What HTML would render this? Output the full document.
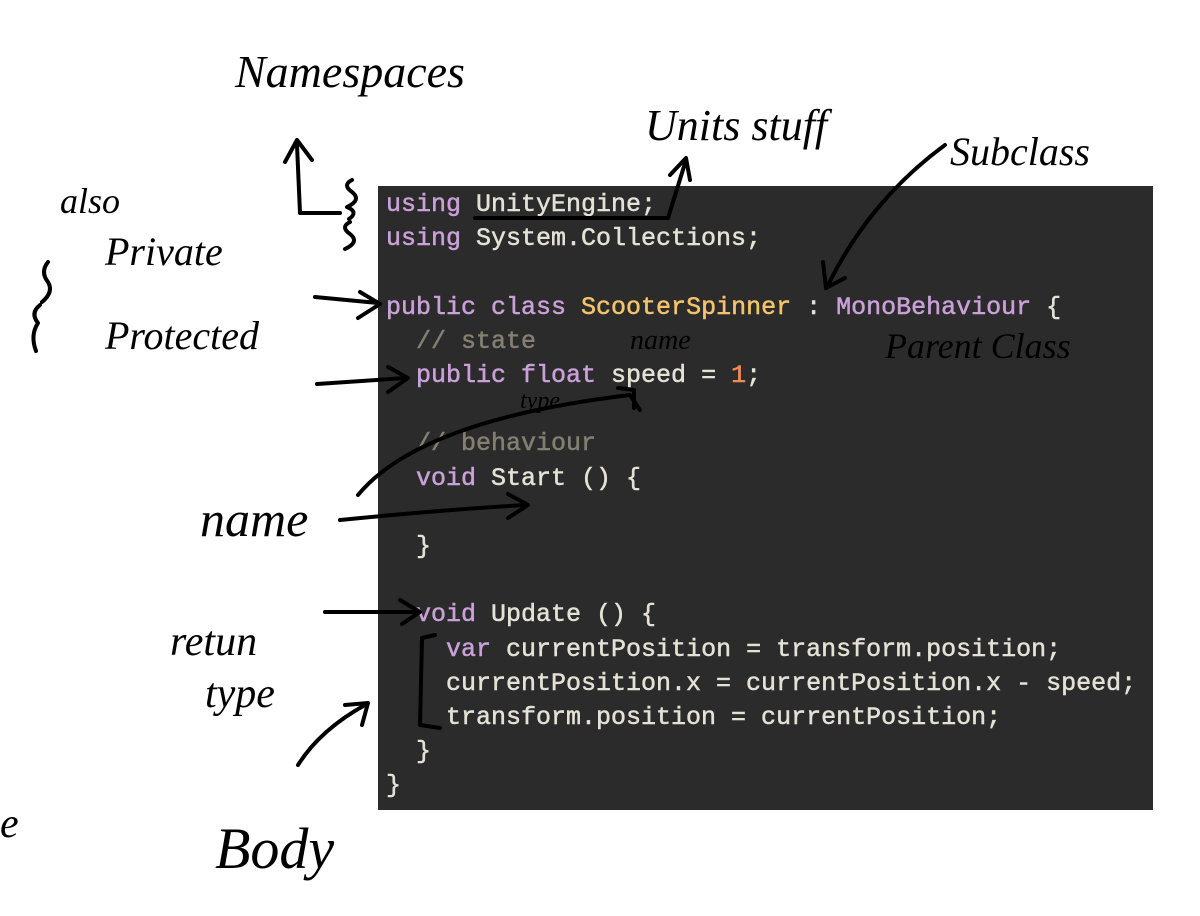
<!DOCTYPE html>
<html><head><meta charset="utf-8"><style>
body{margin:0;width:1200px;height:916px;background:#fff;position:relative;overflow:hidden}
pre{position:absolute;left:378px;top:186px;width:775px;height:624px;margin:0;background:#2b2b2b;box-sizing:border-box;padding:2px 0 0 8px;font:25px/34.2px "Liberation Mono",monospace;color:#e4e2d6;white-space:pre;-webkit-text-stroke:0.5px currentColor}
.k{color:#c9a0d8}.c{color:#f5c36a}.m{color:#857f72}.n{color:#ef8a56}
.h{position:absolute;font-family:"Liberation Serif",serif;font-style:italic;color:#000;white-space:nowrap}
svg{position:absolute;left:0;top:0}
</style></head><body>
<pre><span class="k">using</span> UnityEngine;
<span class="k">using</span> System.Collections;

<span class="k">public class</span> <span class="c">ScooterSpinner</span> : <span class="k">MonoBehaviour</span> {
  <span class="m">// state</span>
  <span class="k">public float</span> speed = <span class="n">1</span>;

  <span class="m">// behaviour</span>
  <span class="k">void</span> Start () {

  }

  <span class="k">void</span> Update () {
    <span class="k">var</span> currentPosition = transform.position;
    currentPosition.x = currentPosition.x - speed;
    transform.position = currentPosition;
  }
}</pre>
<div class="h" style="left:235px;top:45px;font-size:46px">Namespaces</div>
<div class="h" style="left:645px;top:100px;font-size:44px">Units stuff</div>
<div class="h" style="left:950px;top:128px;font-size:40px">Subclass</div>
<div class="h" style="left:60px;top:180px;font-size:36px">also</div>
<div class="h" style="left:105px;top:228px;font-size:40px">Private</div>
<div class="h" style="left:105px;top:312px;font-size:40px">Protected</div>
<div class="h" style="left:885px;top:325px;font-size:36px">Parent Class</div>
<div class="h" style="left:630px;top:325px;font-size:28px">name</div>
<div class="h" style="left:520px;top:388px;font-size:24px">type</div>
<div class="h" style="left:200px;top:490px;font-size:50px">name</div>
<div class="h" style="left:170px;top:618px;font-size:42px">retun</div>
<div class="h" style="left:205px;top:670px;font-size:42px">type</div>
<div class="h" style="left:215px;top:815px;font-size:58px">Body</div>
<div class="h" style="left:0px;top:800px;font-size:42px">e</div>
<svg width="1200" height="916" fill="none" stroke="#000" stroke-width="4" stroke-linecap="round" stroke-linejoin="round">
<path d="M340 213 L300 213 L297 145 M285 162 L297 140 L312 160"/>
<path d="M352 180 q-10 5 0 12 q10 8 -5 15 q12 5 2 12"/>
<path d="M350 222 q-10 5 0 12 q10 8 -5 15"/>
<path d="M475 218 L668 218 L686 160 M670 175 L686 158 L690 180"/>
<path d="M945 145 Q870 200 828 285 M823 262 L826 288 L845 278"/>
<path d="M48 262 q-8 10 0 20 q6 10 -6 20 M40 305 q-10 8 -2 18 q-8 12 -2 28"/>
<path d="M315 297 L378 303 M360 292 L380 304 L358 318"/>
<path d="M317 384 L405 378 M388 367 L408 378 L388 392"/>
<path d="M358 495 Q420 420 630 395 L640 410 M618 388 L634 390 L634 408"/>
<path d="M340 520 Q440 510 525 505 M508 494 L528 505 L508 518"/>
<path d="M325 612 L418 612 M400 600 L420 612 L402 624"/>
<path d="M435 635 L422 638 L420 725 L440 728"/>
<path d="M298 765 Q320 730 365 705 M345 705 L368 703 L362 725"/>
</svg>
</body></html>
